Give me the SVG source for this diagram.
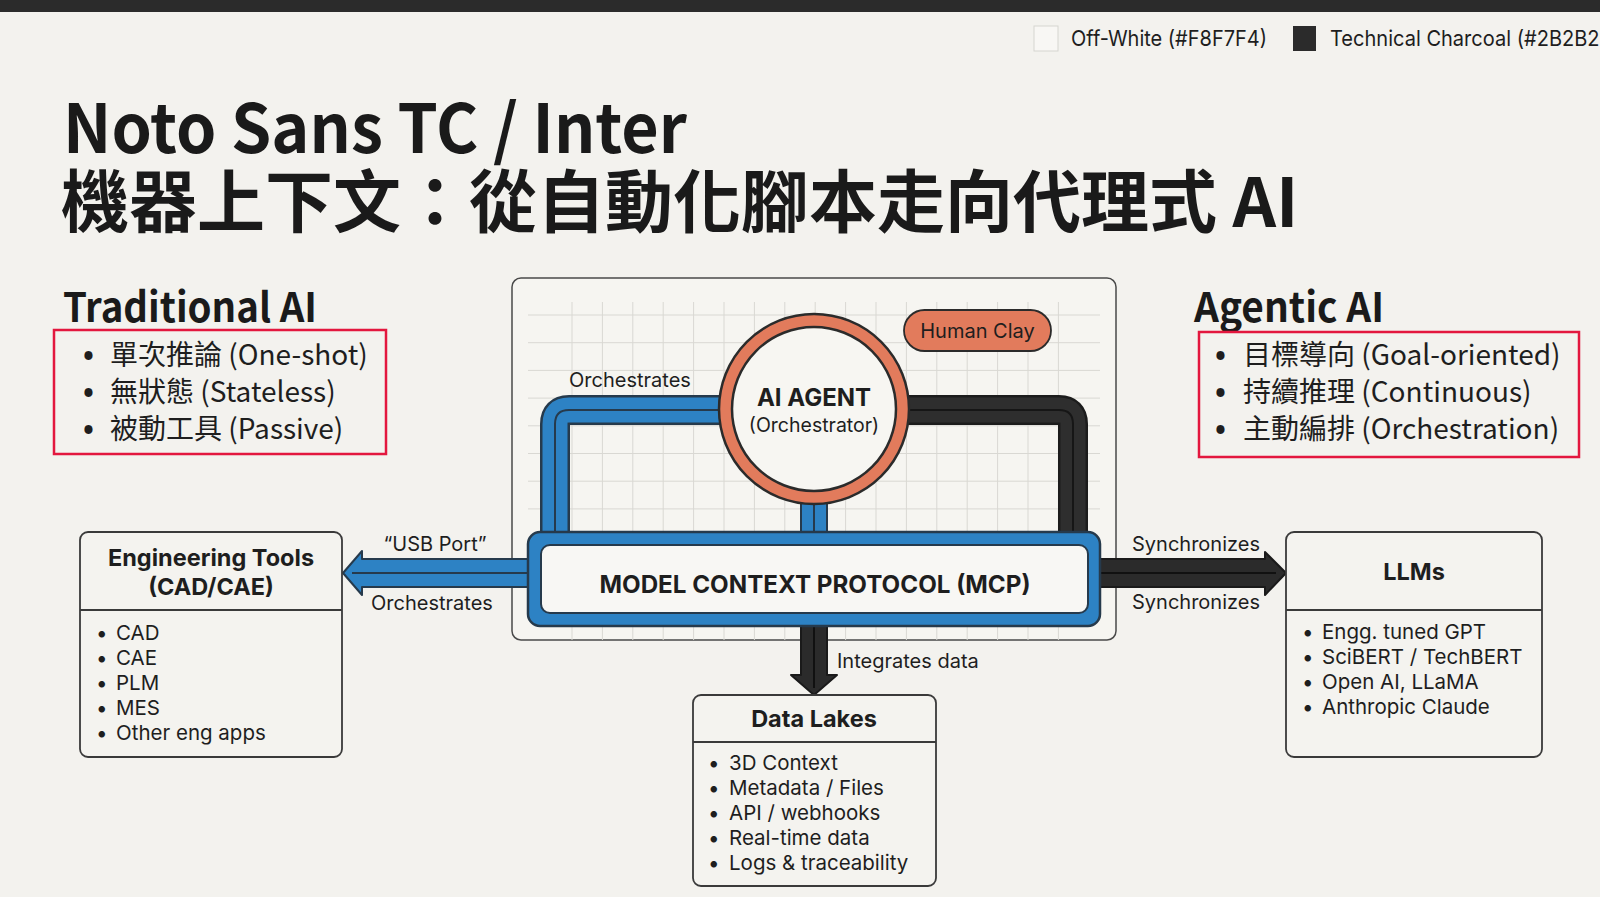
<svg xmlns="http://www.w3.org/2000/svg" width="1600" height="897" viewBox="0 0 1600 897">
<style>
.ui{font-family:Inter,"Noto Sans","Liberation Sans",sans-serif;fill:#1e1e1e}
.hd{font-family:"Noto Sans CJK TC","Noto Sans",sans-serif;font-weight:700;fill:#1a1a1a}
.cj{font-family:"Noto Sans CJK TC","Noto Sans",sans-serif;font-size:28px;fill:#1e1e1e}
.bul{font-family:"Noto Sans","Liberation Sans",sans-serif;font-size:29px;font-weight:700;fill:#1e1e1e}
.lbl{font-size:20px}
.item{font-size:20.5px}
.bt{font-weight:700;font-size:23.5px;text-anchor:middle}
.box{fill:#f4f3ef;stroke:#3a3a3a;stroke-width:1.8}
.div{stroke:#3a3a3a;stroke-width:1.8}
.red{fill:none;stroke:#e3173e;stroke-width:2.5}
.grid{stroke:#d9d8d3;stroke-width:1;fill:none}
</style>
<rect width="1600" height="897" fill="#f3f2ee"/>
<rect width="1600" height="12" fill="#2b2b2b"/>
<g id="legend">
<rect x="1034" y="26" width="24" height="25" fill="#f8f7f4" stroke="#d6d5d0" stroke-width="1"/>
<text class="ui" x="1071" y="46" font-size="22" textLength="196" lengthAdjust="spacingAndGlyphs">Off-White (#F8F7F4)</text>
<rect x="1293" y="26" width="23" height="25" fill="#2b2b2b"/>
<text class="ui" x="1330" y="46" font-size="22" textLength="290" lengthAdjust="spacingAndGlyphs">Technical Charcoal (#2B2B2B)</text>
</g>
<g id="title">
<text class="hd" x="63" y="153" font-size="67" textLength="624" lengthAdjust="spacingAndGlyphs">Noto Sans TC / Inter</text>
<text class="hd" x="61" y="227" font-size="68">機器上下文：從自動化腳本走向代理式 AI</text>
</g>
<g id="traditional-ai">
<text class="hd" x="63" y="322" font-size="41" textLength="254" lengthAdjust="spacingAndGlyphs">Traditional AI</text>
<rect class="red" x="54" y="330" width="332" height="124"/>
<text class="bul" x="83" y="366">•</text><text class="cj" x="110" y="365">單次推論 (One-shot)</text>
<text class="bul" x="83" y="403">•</text><text class="cj" x="110" y="402">無狀態 (Stateless)</text>
<text class="bul" x="83" y="440">•</text><text class="cj" x="110" y="439">被動工具 (Passive)</text>
</g>
<g id="agentic-ai">
<text class="hd" x="1194" y="322" font-size="41" textLength="190" lengthAdjust="spacingAndGlyphs">Agentic AI</text>
<rect class="red" x="1199" y="332" width="380" height="125"/>
<text class="bul" x="1215" y="366">•</text><text class="cj" x="1243" y="365">目標導向 (Goal-oriented)</text>
<text class="bul" x="1215" y="403">•</text><text class="cj" x="1243" y="402">持續推理 (Continuous)</text>
<text class="bul" x="1215" y="440">•</text><text class="cj" x="1243" y="439">主動編排 (Orchestration)</text>
</g>
<g id="panel">
<rect x="512" y="278" width="604" height="362" rx="9" fill="#f6f5f1" stroke="#4a4a4a" stroke-width="1.5"/>
<path class="grid" d="M572 302V640M602.4 302V640M632.8 302V640M663.2 302V640M693.6 302V640M724 302V640M754.4 302V640M784.8 302V640M815.2 302V640M845.6 302V640M876 302V640M906.4 302V640M936.8 302V640M967.2 302V640M997.6 302V640M1028 302V640M1058.4 302V640M528 315H1100M528 342.7H1100M528 370.4H1100M528 398.1H1100M528 425.8H1100M528 453.5H1100M528 481.2H1100M528 508.9H1100"/>
</g>
<g id="connectors">
<path d="M730 410H569Q555 410 555 424V540" fill="none" stroke="#263a4c" stroke-width="30"/>
<path d="M730 410H569Q555 410 555 424V540" fill="none" stroke="#2d82c4" stroke-width="25"/>
<path d="M730 410H569Q555 410 555 424V540" fill="none" stroke="#263a4c" stroke-width="2"/>
<path d="M900 410H1059Q1073 410 1073 424V540" fill="none" stroke="#1c1c1c" stroke-width="30"/>
<path d="M900 410H1059Q1073 410 1073 424V540" fill="none" stroke="#2e2e2e" stroke-width="25"/>
<path d="M900 410H1059Q1073 410 1073 424V540" fill="none" stroke="#161616" stroke-width="2"/>
<rect x="801" y="495" width="26" height="42" fill="#2d82c4" stroke="#263a4c" stroke-width="2"/>
<line x1="814" y1="495" x2="814" y2="537" stroke="#263a4c" stroke-width="2"/>
<polygon points="532,559 362,559 362,551 343,573 362,595 362,587 532,587" fill="#2d82c4" stroke="#263a4c" stroke-width="2" stroke-linejoin="round"/>
<line x1="352" y1="573" x2="532" y2="573" stroke="#263a4c" stroke-width="2"/>
<text class="ui lbl" x="435" y="551" text-anchor="middle">“USB Port”</text>
<text class="ui lbl" x="432" y="610" text-anchor="middle">Orchestrates</text>
<polygon points="1096,559 1265,559 1265,552 1286,573 1265,595 1265,587 1096,587" fill="#2b2b2b" stroke="#1a1a1a" stroke-width="2" stroke-linejoin="round"/>
<line x1="1096" y1="573" x2="1276" y2="573" stroke="#111" stroke-width="2"/>
<text class="ui lbl" x="1196" y="551" text-anchor="middle">Synchronizes</text>
<text class="ui lbl" x="1196" y="609" text-anchor="middle">Synchronizes</text>
<polygon points="801,622 827,622 827,675 837,675 814,695 791,675 801,675" fill="#2b2b2b" stroke="#1a1a1a" stroke-width="2" stroke-linejoin="round"/>
<line x1="814" y1="622" x2="814" y2="688" stroke="#111" stroke-width="2"/>
<text class="ui lbl" x="837" y="668">Integrates data</text>
<text class="ui lbl" x="630" y="387" text-anchor="middle">Orchestrates</text>
</g>
<g id="ai-agent">
<circle cx="814" cy="409" r="95" fill="#e27b5c" stroke="#2b2b2b" stroke-width="2.5"/>
<circle cx="814" cy="409" r="82" fill="#f7f6f2" stroke="#2b2b2b" stroke-width="2.5"/>
<text class="ui" x="814" y="406" font-size="24" font-weight="700" text-anchor="middle">AI AGENT</text>
<text class="ui" x="814" y="432" font-size="19.5" text-anchor="middle">(Orchestrator)</text>
</g>
<g id="human-clay">
<rect x="904" y="310" width="147" height="41" rx="20.5" fill="#e27b5c" stroke="#2b2b2b" stroke-width="1.8"/>
<text class="ui" x="977.5" y="338" font-size="20" text-anchor="middle">Human Clay</text>
</g>
<g id="mcp">
<rect x="528" y="532" width="572" height="94" rx="12" fill="#2d82c4" stroke="#263a4c" stroke-width="2.5"/>
<rect x="541" y="545" width="547" height="68" rx="9" fill="#f8f7f4" stroke="#263a4c" stroke-width="2"/>
<text class="ui" x="815" y="593" font-size="24.2" font-weight="700" text-anchor="middle">MODEL CONTEXT PROTOCOL (MCP)</text>
</g>
<g id="engineering-tools">
<rect class="box" x="80" y="532" width="262" height="225" rx="8"/>
<line class="div" x1="80" y1="610" x2="342" y2="610"/>
<text class="ui bt" x="211" y="566">Engineering Tools</text>
<text class="ui bt" x="211" y="595">(CAD/CAE)</text>
<g class="ui item">
<text x="96" y="640">•</text><text x="116" y="640">CAD</text>
<text x="96" y="665">•</text><text x="116" y="665">CAE</text>
<text x="96" y="690">•</text><text x="116" y="690">PLM</text>
<text x="96" y="715">•</text><text x="116" y="715">MES</text>
<text x="96" y="740">•</text><text x="116" y="740">Other eng apps</text>
</g>
</g>
<g id="llms">
<rect class="box" x="1286" y="532" width="256" height="225" rx="8"/>
<line class="div" x1="1286" y1="610" x2="1542" y2="610"/>
<text class="ui bt" x="1414" y="580">LLMs</text>
<g class="ui item">
<text x="1302" y="639">•</text><text x="1322" y="639">Engg. tuned GPT</text>
<text x="1302" y="664">•</text><text x="1322" y="664">SciBERT / TechBERT</text>
<text x="1302" y="689">•</text><text x="1322" y="689">Open AI, LLaMA</text>
<text x="1302" y="714">•</text><text x="1322" y="714">Anthropic Claude</text>
</g>
</g>
<g id="data-lakes">
<rect class="box" x="693" y="695" width="243" height="191" rx="8"/>
<line class="div" x1="693" y1="742" x2="936" y2="742"/>
<text class="ui bt" x="814" y="727">Data Lakes</text>
<g class="ui item">
<text x="708" y="770">•</text><text x="729" y="770">3D Context</text>
<text x="708" y="795">•</text><text x="729" y="795">Metadata / Files</text>
<text x="708" y="820">•</text><text x="729" y="820">API / webhooks</text>
<text x="708" y="845">•</text><text x="729" y="845">Real-time data</text>
<text x="708" y="870">•</text><text x="729" y="870">Logs &amp; traceability</text>
</g>
</g>
</svg>
